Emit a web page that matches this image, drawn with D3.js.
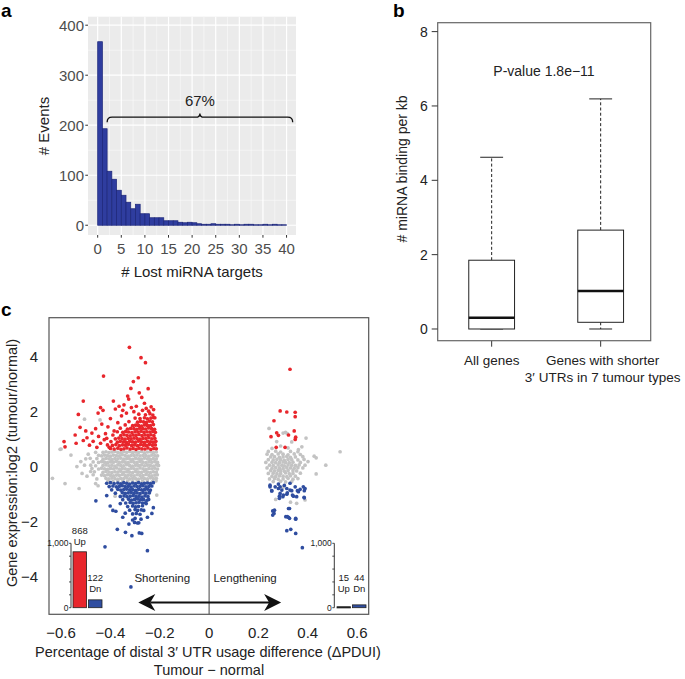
<!DOCTYPE html>
<html><head><meta charset="utf-8">
<script src="https://cdn.jsdelivr.net/npm/d3@7"></script>
<style>body{margin:0;background:#fff}svg{display:block;font-family:"Liberation Sans",Arial,Helvetica,sans-serif}</style>
</head><body><svg id="c" width="685" height="679"></svg>
<script>
// ---------- Panel a: histogram ----------
const histBinStart = [0,1,2,3,4,5,6,7,8,9,10,11,12,13,14,15,16,17,18,19,20,21,22,23,24,25,26,27,28,29,30,31,32,33,34,35,36,37,38,39];
const histCounts   = [367,193,108,92,70,60,46,33,42,23,23,15,15,15,9,9,9,6,5,6,5,3,2,2,3,2,2,2,1,2,1,2,2,1,1,2,1,2,1,1];
const histXTicks = [0,5,10,15,20,25,30,35,40];
const histYTicks = [0,100,200,300,400];
const braceLabel = "67%";
const braceRange = [2, 41.3];

// ---------- Panel b: boxplot ----------
const boxCategories = ["All genes", "Genes with shorter\n3\u2032 UTRs in 7 tumour types"];
const boxLowWhisker = [0, 0];
const boxQ1 = [0, 0.18];
const boxMedian = [0.30, 1.02];
const boxQ3 = [1.85, 2.66];
const boxHighWhisker = [4.62, 6.19];
const boxYTicks = [0,2,4,6,8];
const pValueText = "P-value 1.8e\u221211";

// ---------- Panel c: scatter ----------
const scatterXTicks = [-0.6,-0.4,-0.2,0,0.2,0.4,0.6];
const scatterYTicks = [-4,-2,0,2,4];
const upPoints = [
// left dense core
[-0.40,0.66],[-0.385,0.64],[-0.37,0.67],[-0.357,0.63],[-0.345,0.65],[-0.333,0.68],[-0.32,0.64],[-0.308,0.66],[-0.296,0.63],[-0.284,0.67],[-0.272,0.65],[-0.26,0.64],[-0.248,0.68],[-0.236,0.63],[-0.224,0.66],[-0.214,0.65],
[-0.412,0.79],[-0.392,0.77],[-0.378,0.80],[-0.364,0.76],[-0.351,0.79],[-0.339,0.78],[-0.327,0.81],[-0.314,0.77],[-0.302,0.79],[-0.29,0.76],[-0.278,0.80],[-0.266,0.78],[-0.254,0.77],[-0.242,0.81],[-0.23,0.78],[-0.218,0.79],
[-0.398,0.91],[-0.372,0.89],[-0.36,0.92],[-0.347,0.90],[-0.335,0.88],[-0.322,0.92],[-0.31,0.90],[-0.298,0.89],[-0.286,0.93],[-0.274,0.90],[-0.262,0.88],[-0.25,0.92],[-0.238,0.90],[-0.226,0.89],[-0.216,0.92],
[-0.415,1.03],[-0.38,1.01],[-0.366,1.04],[-0.353,1.02],[-0.341,1.00],[-0.328,1.03],[-0.316,1.01],[-0.304,1.04],[-0.292,1.02],[-0.28,1.00],[-0.268,1.03],[-0.256,1.02],[-0.244,1.05],[-0.232,1.01],[-0.22,1.03],
[-0.39,1.15],[-0.358,1.13],[-0.345,1.16],[-0.333,1.14],[-0.32,1.12],[-0.308,1.15],[-0.296,1.14],[-0.284,1.17],[-0.272,1.13],[-0.26,1.15],[-0.248,1.14],[-0.236,1.16],[-0.224,1.13],
[-0.372,1.27],[-0.35,1.25],[-0.338,1.28],[-0.326,1.26],[-0.313,1.24],[-0.30,1.27],[-0.288,1.26],[-0.276,1.29],[-0.264,1.25],[-0.252,1.27],[-0.24,1.26],[-0.228,1.28],[-0.218,1.25],
[-0.36,1.40],[-0.331,1.37],[-0.318,1.39],[-0.305,1.38],[-0.293,1.36],[-0.281,1.40],[-0.269,1.38],[-0.257,1.37],[-0.245,1.41],[-0.233,1.38],[-0.221,1.36],
[-0.34,1.52],[-0.31,1.49],[-0.298,1.51],[-0.286,1.50],[-0.274,1.48],[-0.262,1.52],[-0.25,1.50],[-0.238,1.49],[-0.226,1.53],
[-0.325,1.64],[-0.29,1.62],[-0.278,1.65],[-0.266,1.63],[-0.254,1.61],[-0.242,1.66],[-0.23,1.63],
[-0.30,1.77],[-0.28,1.75],[-0.262,1.78],[-0.25,1.74],[-0.236,1.77],[-0.225,1.79],
[-0.285,1.91],[-0.258,1.89],[-0.24,1.93],[-0.228,1.88],
// left sparse
[-0.588,0.91],[-0.584,0.72],[-0.543,1.15],[-0.539,0.85],[-0.523,1.43],[-0.53,1.90],[-0.51,2.39],[-0.51,0.95],[-0.50,1.30],[-0.495,1.05],[-0.485,0.78],[-0.475,1.22],[-0.47,0.92],[-0.46,1.38],[-0.455,0.70],[-0.448,1.10],[-0.44,0.85],[-0.435,1.55],[-0.43,2.05],[-0.425,0.98],[-0.42,1.20],[-0.45,1.95],[-0.44,2.15],[-0.428,3.30],[-0.41,1.45],[-0.405,0.70],[-0.40,1.75],[-0.388,2.39],[-0.385,1.30],[-0.38,2.10],[-0.37,1.60],[-0.365,2.20],[-0.355,1.85],[-0.35,2.05],[-0.345,2.25],[-0.335,1.95],[-0.33,2.57],[-0.326,2.46],[-0.323,4.35],[-0.317,2.85],[-0.315,2.15],[-0.307,3.10],[-0.305,2.00],[-0.295,2.20],[-0.287,3.24],[-0.283,2.69],[-0.276,3.97],[-0.273,2.52],[-0.27,2.05],[-0.262,2.31],[-0.258,3.79],[-0.255,2.12],[-0.247,2.84],[-0.245,2.02],[-0.235,2.18],[-0.225,2.08],[-0.22,1.78],
// right
[0.328,3.55],[0.288,2.03],[0.315,1.99],[0.349,1.98],[0.349,1.82],[0.263,1.67],[0.274,1.23],[0.281,1.14],[0.251,1.09],[0.322,1.15],[0.345,1.30],[0.351,1.07],[0.349,0.99],[0.272,0.70],[0.308,0.70]
];
const neutralPoints = [
// left dense core
[-0.43,0.52],[-0.418,0.54],[-0.406,0.51],[-0.394,0.53],[-0.382,0.55],[-0.37,0.52],[-0.358,0.50],[-0.346,0.54],[-0.334,0.52],[-0.322,0.55],[-0.31,0.51],[-0.298,0.53],[-0.286,0.52],[-0.274,0.55],[-0.262,0.50],[-0.25,0.53],[-0.238,0.54],[-0.226,0.51],[-0.214,0.53],
[-0.448,0.41],[-0.436,0.39],[-0.424,0.42],[-0.412,0.40],[-0.40,0.38],[-0.388,0.42],[-0.376,0.40],[-0.364,0.39],[-0.352,0.43],[-0.34,0.40],[-0.328,0.38],[-0.316,0.41],[-0.304,0.40],[-0.292,0.42],[-0.28,0.39],[-0.268,0.41],[-0.256,0.40],[-0.244,0.38],[-0.232,0.42],[-0.22,0.40],[-0.209,0.39],
[-0.455,0.29],[-0.43,0.27],[-0.418,0.30],[-0.406,0.28],[-0.394,0.26],[-0.382,0.29],[-0.37,0.28],[-0.358,0.31],[-0.346,0.27],[-0.334,0.29],[-0.322,0.28],[-0.31,0.26],[-0.298,0.30],[-0.286,0.28],[-0.274,0.27],[-0.262,0.31],[-0.25,0.28],[-0.238,0.26],[-0.226,0.29],[-0.214,0.28],
[-0.47,0.17],[-0.448,0.15],[-0.436,0.18],[-0.424,0.16],[-0.412,0.14],[-0.40,0.17],[-0.388,0.16],[-0.376,0.19],[-0.364,0.15],[-0.352,0.17],[-0.34,0.16],[-0.328,0.14],[-0.316,0.18],[-0.304,0.16],[-0.292,0.15],[-0.28,0.19],[-0.268,0.16],[-0.256,0.14],[-0.244,0.17],[-0.232,0.16],[-0.22,0.18],[-0.209,0.15],
[-0.48,0.05],[-0.46,0.03],[-0.43,0.04],[-0.418,0.06],[-0.406,0.03],[-0.394,0.05],[-0.382,0.02],[-0.37,0.06],[-0.358,0.04],[-0.346,0.03],[-0.334,0.07],[-0.322,0.04],[-0.31,0.02],[-0.298,0.05],[-0.286,0.04],[-0.274,0.06],[-0.262,0.03],[-0.25,0.05],[-0.238,0.04],[-0.226,0.02],[-0.214,0.06],[-0.205,0.04],
[-0.475,-0.07],[-0.448,-0.09],[-0.436,-0.06],[-0.424,-0.08],[-0.412,-0.10],[-0.40,-0.07],[-0.388,-0.08],[-0.376,-0.05],[-0.364,-0.09],[-0.352,-0.07],[-0.34,-0.08],[-0.328,-0.10],[-0.316,-0.06],[-0.304,-0.08],[-0.292,-0.09],[-0.28,-0.05],[-0.268,-0.08],[-0.256,-0.10],[-0.244,-0.07],[-0.232,-0.08],[-0.22,-0.06],[-0.209,-0.09],
[-0.465,-0.19],[-0.43,-0.21],[-0.418,-0.18],[-0.406,-0.20],[-0.394,-0.22],[-0.382,-0.19],[-0.37,-0.20],[-0.358,-0.17],[-0.346,-0.21],[-0.334,-0.19],[-0.322,-0.20],[-0.31,-0.22],[-0.298,-0.18],[-0.286,-0.20],[-0.274,-0.21],[-0.262,-0.17],[-0.25,-0.20],[-0.238,-0.22],[-0.226,-0.19],[-0.214,-0.20],
[-0.436,-0.31],[-0.424,-0.33],[-0.412,-0.30],[-0.40,-0.32],[-0.388,-0.34],[-0.376,-0.31],[-0.364,-0.32],[-0.352,-0.29],[-0.34,-0.33],[-0.328,-0.31],[-0.316,-0.32],[-0.304,-0.34],[-0.292,-0.30],[-0.28,-0.32],[-0.268,-0.33],[-0.256,-0.29],[-0.244,-0.32],[-0.232,-0.34],[-0.22,-0.31],[-0.21,-0.30],
[-0.418,-0.43],[-0.406,-0.45],[-0.394,-0.42],[-0.382,-0.44],[-0.37,-0.46],[-0.358,-0.43],[-0.346,-0.44],[-0.334,-0.41],[-0.322,-0.45],[-0.31,-0.43],[-0.298,-0.44],[-0.286,-0.46],[-0.274,-0.42],[-0.262,-0.44],[-0.25,-0.45],[-0.238,-0.41],[-0.226,-0.44],[-0.214,-0.43],
[-0.41,-0.53],[-0.39,-0.55],[-0.37,-0.52],[-0.35,-0.54],[-0.33,-0.53],[-0.31,-0.55],[-0.29,-0.52],[-0.27,-0.54],[-0.25,-0.53],[-0.23,-0.55],[-0.215,-0.52],
// left sparse
[-0.505,1.73],[-0.442,1.70],[-0.604,0.63],[-0.6,0.64],[-0.635,-0.43],[-0.584,-0.62],[-0.56,0.42],[-0.536,0.0],[-0.52,0.18],[-0.50,0.28],[-0.505,0.05],[-0.49,0.45],[-0.482,0.30],[-0.48,-0.18],[-0.495,-0.35],[-0.527,-0.80],[-0.46,-0.62],[-0.45,-0.70],[-0.212,-1.04],[-0.381,-1.08],[-0.47,-0.30],[-0.455,-0.45],[-0.46,0.52],[-0.515,-0.25],
// right
[0.243,1.39],[0.30,1.22],[0.31,1.25],[0.317,1.20],[0.393,1.04],[0.376,0.72],[0.531,0.54],[0.426,0.38],[0.434,0.32],[0.473,0.05],[0.434,-0.27],[0.401,0.18],[0.389,0.05],
[0.274,0.91],[0.335,0.90],[0.362,0.62],[0.29,0.75],[0.32,0.68],[0.255,0.66],
[0.24,0.55],[0.27,0.56],[0.29,0.53],[0.33,0.55],[0.36,0.54],
[0.235,0.45],[0.255,0.44],[0.28,0.46],[0.30,0.45],[0.32,0.43],[0.345,0.46],[0.37,0.44],
[0.25,0.35],[0.265,0.36],[0.285,0.34],[0.30,0.35],[0.315,0.37],[0.33,0.34],[0.35,0.35],[0.38,0.36],
[0.24,0.25],[0.26,0.24],[0.275,0.26],[0.29,0.25],[0.305,0.23],[0.32,0.26],[0.335,0.25],[0.36,0.24],[0.385,0.26],
[0.23,0.15],[0.255,0.16],[0.27,0.14],[0.285,0.15],[0.30,0.17],[0.31,0.15],[0.325,0.14],[0.34,0.16],[0.37,0.15],
[0.245,0.05],[0.26,0.04],[0.28,0.06],[0.295,0.05],[0.305,0.03],[0.32,0.06],[0.335,0.05],[0.35,0.04],[0.365,0.06],
[0.235,-0.05],[0.255,-0.06],[0.27,-0.04],[0.285,-0.05],[0.30,-0.07],[0.315,-0.04],[0.33,-0.05],[0.345,-0.06],[0.36,-0.04],[0.38,-0.05],
[0.25,-0.15],[0.265,-0.16],[0.28,-0.14],[0.29,-0.15],[0.305,-0.17],[0.32,-0.14],[0.34,-0.15],[0.355,-0.16],
[0.24,-0.25],[0.26,-0.24],[0.275,-0.26],[0.29,-0.25],[0.31,-0.23],[0.325,-0.26],[0.34,-0.25],[0.37,-0.24],
[0.255,-0.35],[0.27,-0.36],[0.285,-0.34],[0.30,-0.35],[0.315,-0.37],[0.33,-0.34],[0.35,-0.35],
[0.245,-0.45],[0.265,-0.44],[0.28,-0.46],[0.30,-0.45],[0.32,-0.43],[0.34,-0.46],[0.36,-0.44],
[0.26,-0.55],[0.29,-0.54],[0.31,-0.56],[0.335,-0.55],
[0.30,-0.75],[0.355,-1.34],[0.389,-1.22],[0.27,-1.2],[0.33,-1.3]
];
const downPoints = [
// left dense
[-0.415,-0.61],[-0.40,-0.59],[-0.385,-0.62],[-0.37,-0.60],[-0.358,-0.63],[-0.346,-0.59],[-0.334,-0.61],[-0.322,-0.64],[-0.31,-0.60],[-0.298,-0.62],[-0.286,-0.59],[-0.274,-0.63],[-0.262,-0.61],[-0.25,-0.60],[-0.238,-0.62],[-0.226,-0.59],
[-0.405,-0.73],[-0.39,-0.71],[-0.376,-0.74],[-0.364,-0.72],[-0.352,-0.70],[-0.34,-0.73],[-0.328,-0.72],[-0.316,-0.75],[-0.304,-0.71],[-0.292,-0.73],[-0.28,-0.72],[-0.268,-0.70],[-0.256,-0.74],[-0.244,-0.72],[-0.232,-0.71],
[-0.395,-0.85],[-0.37,-0.83],[-0.358,-0.86],[-0.346,-0.84],[-0.334,-0.82],[-0.322,-0.85],[-0.31,-0.84],[-0.298,-0.87],[-0.286,-0.83],[-0.274,-0.85],[-0.262,-0.84],[-0.25,-0.82],[-0.238,-0.86],
[-0.38,-0.97],[-0.352,-0.95],[-0.34,-0.98],[-0.328,-0.96],[-0.316,-0.94],[-0.304,-0.97],[-0.292,-0.96],[-0.28,-0.99],[-0.268,-0.95],[-0.256,-0.97],[-0.242,-0.96],
[-0.36,-1.09],[-0.345,-1.07],[-0.333,-1.10],[-0.32,-1.08],[-0.308,-1.06],[-0.296,-1.09],[-0.284,-1.08],[-0.272,-1.11],[-0.26,-1.07],[-0.248,-1.09],
[-0.35,-1.21],[-0.326,-1.19],[-0.314,-1.22],[-0.302,-1.20],[-0.29,-1.18],[-0.278,-1.21],[-0.266,-1.20],[-0.252,-1.23],
[-0.338,-1.33],[-0.32,-1.31],[-0.308,-1.34],[-0.296,-1.32],[-0.284,-1.30],[-0.27,-1.33],[-0.258,-1.32],
[-0.33,-1.46],[-0.31,-1.44],[-0.298,-1.47],[-0.286,-1.45],[-0.27,-1.43],
[-0.322,-1.59],[-0.30,-1.57],[-0.29,-1.60],[-0.275,-1.58],
[-0.31,-1.73],[-0.295,-1.71],[-0.28,-1.74],
// left sparse
[-0.459,-1.25],[-0.415,-1.06],[-0.401,-1.44],[-0.39,-1.60],[-0.378,-1.63],[-0.30,-1.89],[-0.276,-1.92],[-0.232,-1.71],[-0.226,-1.50],[-0.242,-0.92],[-0.29,-2.06],[-0.302,-2.04],[-0.372,-2.29],[-0.339,-2.40],[-0.422,-2.93],[-0.25,-3.07],[-0.317,-4.39],[-0.313,-2.52],[-0.273,-2.44],[-0.283,-2.42],[-0.285,-2.05],[-0.35,-1.85],[-0.36,-1.35],[-0.255,-1.35],[-0.245,-1.20],[-0.325,-2.10],[-0.31,-1.95],[-0.265,-1.60],[-0.34,-1.70],[-0.25,-1.85],
// right
[0.247,-0.74],[0.254,-0.88],[0.281,-0.64],[0.288,-0.74],[0.295,-0.86],[0.305,-0.69],[0.315,-0.80],[0.328,-0.61],[0.335,-0.88],[0.349,-0.74],[0.362,-0.92],[0.382,-0.74],[0.386,-0.88],[0.285,-1.08],[0.299,-1.10],[0.315,-1.01],[0.338,-1.04],[0.355,-1.10],[0.386,-1.14],
[0.265,-1.59],[0.258,-1.77],[0.322,-1.53],[0.311,-1.83],[0.322,-1.85],[0.351,-1.89],[0.263,-1.71],[0.258,-1.62],[0.317,-1.83],[0.326,-1.89],[0.351,-1.92],[0.315,-2.34],[0.331,-2.29],[0.351,-2.44],[0.378,-2.96],[0.326,-1.53],
[0.247,-0.68],[0.254,-0.89],[0.268,-0.74],[0.281,-0.80],[0.288,-0.98],[0.285,-1.16],[0.301,-1.04],[0.317,-0.96],[0.328,-0.86],[0.342,-1.08],[0.358,-0.88],[0.369,-0.83],[0.385,-1.12],[0.389,-0.80]
];
// inset bar charts (counts of up / down regulated genes)
const insetCategories = ["Up", "Dn"];
const shorteningCounts = [868, 122];
const lengtheningCounts = [15, 44];
const insetTicks = [0,200,400,600,800,1000];

const svg = d3.select("#c");

// ===== Panel a =====
const xa = d3.scaleLinear().domain([-2.05, 42]).range([88, 296]);
const ya = d3.scaleLinear().domain([-19.5, 417]).range([235, 16.7]);
const ga = svg.append("g");
ga.append("rect").attr("x", xa.range()[0]).attr("y", ya.range()[1])
  .attr("width", xa.range()[1]-xa.range()[0]).attr("height", ya.range()[0]-ya.range()[1]).attr("fill", "#ebebeb");
const xMinor = histXTicks.slice(0,-1).map(d => d + 2.5);
const yMinor = histYTicks.slice(0,-1).map(d => d + 50);
ga.selectAll(".vmin").data(xMinor).join("line").attr("x1", d=>xa(d)).attr("x2", d=>xa(d))
  .attr("y1", ya.range()[0]).attr("y2", ya.range()[1]).attr("stroke", "#fafafa").attr("stroke-width", 0.6);
ga.selectAll(".hmin").data(yMinor).join("line").attr("y1", d=>ya(d)).attr("y2", d=>ya(d))
  .attr("x1", xa.range()[0]).attr("x2", xa.range()[1]).attr("stroke", "#fafafa").attr("stroke-width", 0.6);
ga.selectAll(".vmaj").data(histXTicks).join("line").attr("x1", d=>xa(d)).attr("x2", d=>xa(d))
  .attr("y1", ya.range()[0]).attr("y2", ya.range()[1]).attr("stroke", "#fff").attr("stroke-width", 1.2);
ga.selectAll(".hmaj").data(histYTicks).join("line").attr("y1", d=>ya(d)).attr("y2", d=>ya(d))
  .attr("x1", xa.range()[0]).attr("x2", xa.range()[1]).attr("stroke", "#fff").attr("stroke-width", 1.2);
ga.selectAll(".bar").data(histBinStart).join("rect")
  .attr("x", d => xa(d)).attr("width", d => xa(d+1)-xa(d))
  .attr("y", (d,i) => ya(histCounts[i])).attr("height", (d,i) => ya(0)-ya(histCounts[i]))
  .attr("fill", "#2f3d9f").attr("stroke", "#1c2678").attr("stroke-width", 0.7);
ga.selectAll(".yt").data(histYTicks).join("line").attr("x1", xa.range()[0]-2.7).attr("x2", xa.range()[0])
  .attr("y1", d=>ya(d)).attr("y2", d=>ya(d)).attr("stroke", "#333");
ga.selectAll(".ytl").data(histYTicks).join("text").attr("x", xa.range()[0]-4).attr("y", d=>ya(d))
  .attr("text-anchor","end").attr("dominant-baseline","central").attr("font-size",15).attr("fill","#4d4d4d").text(d=>d);
ga.selectAll(".xt").data(histXTicks).join("line").attr("x1", d=>xa(d)).attr("x2", d=>xa(d))
  .attr("y1", ya.range()[0]).attr("y2", ya.range()[0]+2.7).attr("stroke", "#333");
ga.selectAll(".xtl").data(histXTicks).join("text").attr("x", d=>xa(d)).attr("y", 248)
  .attr("text-anchor","middle").attr("dominant-baseline","central").attr("font-size",15).attr("fill","#4d4d4d").text(d=>d);
ga.append("text").attr("x", (xa.range()[0]+xa.range()[1])/2).attr("y", 271.5).attr("text-anchor","middle")
  .attr("dominant-baseline","central").attr("font-size",15).attr("fill","#222").text("# Lost miRNA targets");
ga.append("text").attr("transform", `translate(43,126) rotate(-90)`).attr("text-anchor","middle")
  .attr("dominant-baseline","central").attr("font-size",15).attr("fill","#222").text("# Events");
{
  const x0 = xa(braceRange[0]), x1 = xa(braceRange[1]), xm = (x0+x1)/2;
  const yb = ya(216), yEnd = ya(206), yTip = ya(223.5);
  const p = `M${x0},${yEnd} Q${x0},${yb} ${x0+5},${yb} L${xm-4},${yb} Q${xm},${yb} ${xm},${yTip} Q${xm},${yb} ${xm+4},${yb} L${x1-5},${yb} Q${x1},${yb} ${x1},${yEnd}`;
  ga.append("path").attr("d", p).attr("fill","none").attr("stroke","#111").attr("stroke-width",1.3);
  ga.append("text").attr("x", xm).attr("y", 100).attr("text-anchor","middle").attr("dominant-baseline","central")
    .attr("font-size",15).attr("fill","#222").text(braceLabel);
}
svg.append("text").attr("x", 1).attr("y", 17).attr("font-size", 19).attr("font-weight","bold").text("a");

// ===== Panel b =====
const xb = d3.scaleLinear().domain([0.505, 2.459]).range([437.7, 650.7]);
const yb = d3.scaleLinear().domain([-0.315, 8.24]).range([340.7, 22.7]);
const gb = svg.append("g");
const boxW = 0.42, capW = 0.21;
boxCategories.forEach((c, i) => {
  const cx = i + 1;
  gb.append("line").attr("x1", xb(cx)).attr("x2", xb(cx)).attr("y1", yb(boxQ3[i])).attr("y2", yb(boxHighWhisker[i]))
    .attr("stroke","#222").attr("stroke-dasharray","3,2.2").attr("stroke-width",1);
  gb.append("line").attr("x1", xb(cx)).attr("x2", xb(cx)).attr("y1", yb(boxQ1[i])).attr("y2", yb(boxLowWhisker[i]))
    .attr("stroke","#222").attr("stroke-dasharray","3,2.2").attr("stroke-width",1);
  [boxHighWhisker[i], boxLowWhisker[i]].forEach(v => {
    gb.append("line").attr("x1", xb(cx-capW/2)).attr("x2", xb(cx+capW/2)).attr("y1", yb(v)).attr("y2", yb(v))
      .attr("stroke","#222").attr("stroke-width",1);
  });
  gb.append("rect").attr("x", xb(cx-boxW/2)).attr("width", xb(cx+boxW/2)-xb(cx-boxW/2))
    .attr("y", yb(boxQ3[i])).attr("height", yb(boxQ1[i])-yb(boxQ3[i]))
    .attr("fill","#fff").attr("stroke","#222").attr("stroke-width",1);
  gb.append("line").attr("x1", xb(cx-boxW/2)).attr("x2", xb(cx+boxW/2)).attr("y1", yb(boxMedian[i])).attr("y2", yb(boxMedian[i]))
    .attr("stroke","#111").attr("stroke-width",2.5);
  gb.append("line").attr("x1", xb(cx)).attr("x2", xb(cx)).attr("y1", yb.range()[0]).attr("y2", yb.range()[0]+6).attr("stroke","#333");
  c.split("\n").forEach((ln, k) => {
    gb.append("text").attr("x", xb(cx) + (i===1 ? 2 : 0)).attr("y", 360 + k*17.7).attr("text-anchor","middle")
      .attr("dominant-baseline","central").attr("font-size",13.5).attr("fill","#222").text(ln);
  });
});
gb.append("rect").attr("x", xb.range()[0]).attr("y", yb.range()[1]).attr("width", xb.range()[1]-xb.range()[0])
  .attr("height", yb.range()[0]-yb.range()[1]).attr("fill","none").attr("stroke","#666").attr("stroke-width",1.2);
gb.selectAll(".byt").data(boxYTicks).join("line").attr("x1", xb.range()[0]-6).attr("x2", xb.range()[0])
  .attr("y1", d=>yb(d)).attr("y2", d=>yb(d)).attr("stroke","#333");
gb.selectAll(".bytl").data(boxYTicks).join("text").attr("x", xb.range()[0]-10).attr("y", d=>yb(d))
  .attr("text-anchor","end").attr("dominant-baseline","central").attr("font-size",14).attr("fill","#222").text(d=>d);
gb.append("text").attr("transform","translate(402,169) rotate(-90)").attr("text-anchor","middle")
  .attr("dominant-baseline","central").attr("font-size",14).attr("fill","#222").text("# miRNA binding per kb");
gb.append("text").attr("x", 544).attr("y", 71).attr("text-anchor","middle").attr("dominant-baseline","central")
  .attr("font-size",14).attr("fill","#222").text(pValueText);
svg.append("text").attr("x", 393).attr("y", 17).attr("font-size", 19).attr("font-weight","bold").text("b");

// ===== Panel c =====
const xc = d3.scaleLinear().domain([-0.649, 0.647]).range([49, 368.7]);
const yc = d3.scaleLinear().domain([-5.39, 5.43]).range([614.3, 317.7]);
const gc = svg.append("g");
const R = 1.85;
gc.selectAll(".np").data(neutralPoints).join("circle").attr("cx", d=>xc(d[0])).attr("cy", d=>yc(d[1])).attr("r", R).attr("fill","#c3c3c3");
gc.selectAll(".dp").data(downPoints).join("circle").attr("cx", d=>xc(d[0])).attr("cy", d=>yc(d[1])).attr("r", R).attr("fill","#2f4da0");
gc.selectAll(".up").data(upPoints).join("circle").attr("cx", d=>xc(d[0])).attr("cy", d=>yc(d[1])).attr("r", R).attr("fill","#e8262c");
gc.append("line").attr("x1", xc(0)).attr("x2", xc(0)).attr("y1", yc.range()[0]).attr("y2", yc.range()[1]).attr("stroke","#444").attr("stroke-width",1);
gc.append("rect").attr("x", xc.range()[0]).attr("y", yc.range()[1]).attr("width", xc.range()[1]-xc.range()[0])
  .attr("height", yc.range()[0]-yc.range()[1]).attr("fill","none").attr("stroke","#555").attr("stroke-width",1.2);
const fmt = d => (d < 0 ? "\u2212" : "") + (d === 0 ? "0" : String(Math.abs(d)));
gc.selectAll(".cxt").data(scatterXTicks).join("text").attr("x", d=>xc(d)).attr("y", 632)
  .attr("text-anchor","middle").attr("dominant-baseline","central").attr("font-size",15).attr("fill","#222").text(fmt);
gc.selectAll(".cyt").data(scatterYTicks).join("text").attr("x", 38).attr("y", d=>yc(d))
  .attr("text-anchor","end").attr("dominant-baseline","central").attr("font-size",15).attr("fill","#222").text(fmt);
gc.append("text").attr("x", 208).attr("y", 652).attr("text-anchor","middle").attr("dominant-baseline","central")
  .attr("font-size",14.5).attr("fill","#222").text("Percentage of distal 3\u2032 UTR usage difference (\u0394PDUI)");
gc.append("text").attr("x", 209).attr("y", 670).attr("text-anchor","middle").attr("dominant-baseline","central")
  .attr("font-size",14.5).attr("fill","#222").text("Tumour \u2212 normal");
gc.append("text").attr("transform","translate(12,463) rotate(-90)").attr("text-anchor","middle")
  .attr("dominant-baseline","central").attr("font-size",14.5).attr("fill","#222").text("Gene expression:log2 (tumour/normal)");
{
  const yA = yc(-4.96), xl = xc(-0.287), xr = xc(0.292), L = 17, H = 8.5, N = 12;
  gc.append("line").attr("x1", xl+N).attr("x2", xr-N).attr("y1", yA).attr("y2", yA).attr("stroke","#111").attr("stroke-width",2.2);
  gc.append("path").attr("d", `M${xl},${yA} L${xl+L},${yA-H} L${xl+N},${yA} L${xl+L},${yA+H} Z`).attr("fill","#111");
  gc.append("path").attr("d", `M${xr},${yA} L${xr-L},${yA-H} L${xr-N},${yA} L${xr-L},${yA+H} Z`).attr("fill","#111");
  gc.append("text").attr("x", xc(-0.19)).attr("y", yc(-4.06)).attr("text-anchor","middle").attr("dominant-baseline","central")
    .attr("font-size",11.5).attr("fill","#222").text("Shortening");
  gc.append("text").attr("x", xc(0.146)).attr("y", yc(-4.06)).attr("text-anchor","middle").attr("dominant-baseline","central")
    .attr("font-size",11.5).attr("fill","#222").text("Lengthening");
}
function inset(axisX, bandRange, counts, colors) {
  const yi = d3.scaleLinear().domain([0, 1000]).range([607.7, 543.3]);
  const xi = d3.scaleBand().domain(insetCategories).range(bandRange).paddingInner(0.12);
  const g = gc.append("g");
  g.append("line").attr("x1", axisX).attr("x2", axisX).attr("y1", yi(0)).attr("y2", yi(1000)).attr("stroke","#222").attr("stroke-width",0.9);
  g.selectAll("line.t").data(insetTicks).join("line").attr("class","t").attr("x1", axisX-2).attr("x2", axisX)
    .attr("y1", d=>yi(d)).attr("y2", d=>yi(d)).attr("stroke","#222").attr("stroke-width",0.8);
  g.selectAll("text.t").data([0, 1000]).join("text").attr("class","t").attr("x", axisX-2.5).attr("y", d=>yi(d))
    .attr("text-anchor","end").attr("dominant-baseline","central").attr("font-size",8.5).attr("fill","#222").text(d3.format(","));
  insetCategories.forEach((c, i) => {
    g.append("rect").attr("x", xi(c)).attr("width", xi.bandwidth()).attr("y", yi(counts[i]))
      .attr("height", Math.max(yi(0)-yi(counts[i]), 1.2)).attr("fill", colors[i]).attr("stroke","#222").attr("stroke-width",0.8);
    const yl = Math.min(yi(counts[i]) - 10, 588);
    g.append("text").attr("x", xi(c)+xi.bandwidth()/2).attr("y", yl).attr("text-anchor","middle").attr("dominant-baseline","central")
      .attr("font-size",9.5).attr("fill","#222").text(c);
    g.append("text").attr("x", xi(c)+xi.bandwidth()/2).attr("y", yl-11).attr("text-anchor","middle").attr("dominant-baseline","central")
      .attr("font-size",9.5).attr("fill","#222").text(counts[i]);
  });
}
inset(71, [73, 102], shorteningCounts, ["#e8262c", "#2f4da0"]);
inset(334.3, [337, 366], lengtheningCounts, ["#111", "#2f4da0"]);
svg.append("text").attr("x", 1).attr("y", 316).attr("font-size", 19).attr("font-weight","bold").text("c");
</script></body></html>
